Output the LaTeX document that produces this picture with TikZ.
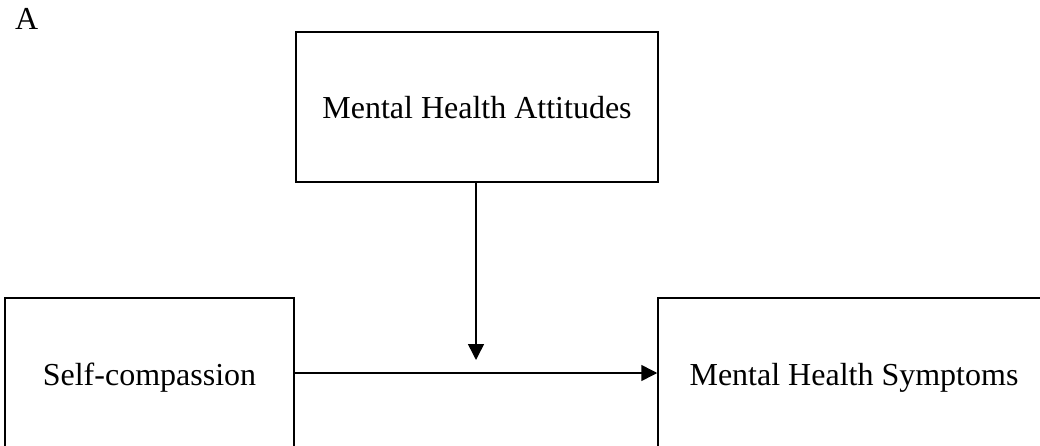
\documentclass[tikz,border=0pt]{standalone}
\usepackage{fontspec}
\setmainfont{Liberation Serif}
\usetikzlibrary{arrows.meta}
\begin{document}
\begin{tikzpicture}[x=1pt,y=-1pt,
  box/.style={draw, line width=1.5pt, inner sep=0pt, minimum height=150pt,
    text height=24pt, text depth=0pt, font=\fontsize{32}{38}\selectfont},
  conn/.style={line width=1.5pt, -{Triangle[length=16pt,width=16pt]}}]
\useasboundingbox (0,0) rectangle (1040,446);
\clip (0,0) rectangle (1040,446);
\node[anchor=base west, inner sep=0pt, font=\fontsize{32}{38}\selectfont] (lab) at (15,30) {A};
\node[box, minimum width=362pt] (mod) at (477,107) {Mental Health Attitudes};
\node[box, minimum width=289pt] (x) at (149.5,373) {Self-compassion};
\node[box, minimum width=392pt] (y) at (854,373) {Mental Health Symptoms};
\coordinate (tip) at (476,360);
\draw[conn] (x.east) -- (y.west);
\draw[conn] (mod.south -| tip) -- (tip);
\end{tikzpicture}
\end{document}
